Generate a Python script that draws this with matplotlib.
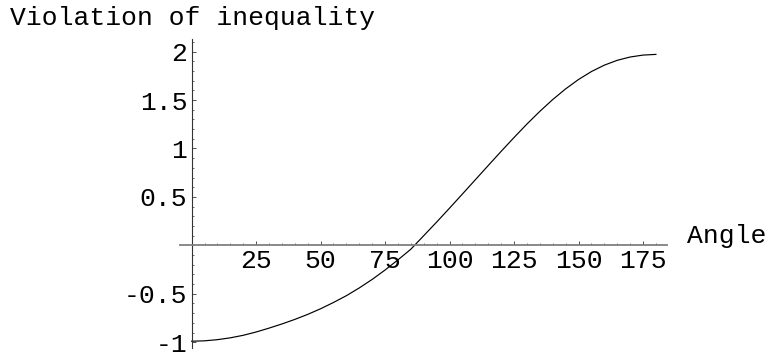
import matplotlib
matplotlib.use('Agg')
import matplotlib.pyplot as plt
from matplotlib.ticker import FixedLocator, MultipleLocator

# values, every 5 degrees
angle = [0, 5, 10, 15, 20, 25, 30, 35, 40, 45, 50, 55, 60, 65, 70, 75, 80, 85, 90,
         95, 100, 105, 110, 115, 120, 125, 130, 135, 140, 145, 150, 155, 160, 165,
         170, 175, 180]
violation = [-0.99, -0.986, -0.974, -0.955, -0.929, -0.895, -0.855, -0.812, -0.765,
             -0.713, -0.655, -0.59, -0.52, -0.44, -0.352, -0.255, -0.15, -0.04, 0.10,
             0.24, 0.384, 0.53, 0.677, 0.824, 0.97, 1.113, 1.252, 1.383, 1.505, 1.615,
             1.712, 1.794, 1.86, 1.91, 1.944, 1.964, 1.971]

xticks = [25, 50, 75, 100, 125, 150, 175]
yticks = [-1, -0.5, 0.5, 1, 1.5, 2]
ytick_labels = ['-1', '-0.5', '0.5', '1', '1.5', '2']

FONT = 'Liberation Mono'
fs = 19

fig = plt.figure(figsize=(7.66, 3.56), dpi=100)
ax = fig.add_axes([180 / 766, 1 - 348 / 356, (667 - 180) / 766, (348 - 39) / 356])

ax.plot(angle, violation, color='black', lw=0.85)

ax.set_xlim(-4.5, 184.3)
ax.set_ylim(-1.06, 2.13)

ax.spines['top'].set_visible(False)
ax.spines['right'].set_visible(False)
ax.spines['left'].set_position(('data', 0))
ax.spines['bottom'].set_position(('data', 0))
ax.spines['bottom'].set_color('#808080')
ax.spines['bottom'].set_linewidth(1.3)
ax.spines['left'].set_color('#333333')
ax.spines['left'].set_linewidth(0.8)

ax.xaxis.set_major_locator(FixedLocator(xticks))
ax.xaxis.set_minor_locator(MultipleLocator(5))
ax.yaxis.set_major_locator(FixedLocator(yticks))
ax.yaxis.set_minor_locator(MultipleLocator(0.1))
ax.set_xticklabels([str(t) for t in xticks])
ax.set_yticklabels(ytick_labels)

ax.tick_params(which='major', direction='in', length=3, width=0.6, color='#333333',
               labelsize=fs)
ax.tick_params(which='minor', direction='in', length=1.5, width=0.5, color='#333333')
ax.tick_params(axis='x', which='major', pad=3)
ax.tick_params(axis='y', which='major', pad=3)
for lab in ax.get_xticklabels() + ax.get_yticklabels():
    lab.set_fontfamily(FONT)

fig.text(10 / 766, 1 - 25 / 356, 'Violation of inequality', fontsize=fs,
         family=FONT, va='baseline', ha='left')
fig.text(687 / 766, 1 - 243 / 356, 'Angle', fontsize=fs, family=FONT,
         va='baseline', ha='left')

fig.savefig('out.png', dpi=100)
